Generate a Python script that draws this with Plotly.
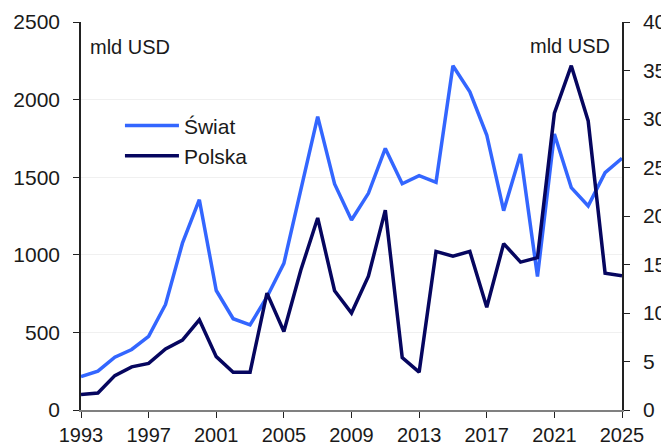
import plotly.graph_objects as go

years = list(range(1993, 2026))
swiat = [215, 250, 340, 390, 475, 680, 1075, 1355, 770, 588, 548, 728, 945, 1420, 1890,
         1456, 1224, 1396, 1685, 1458, 1510, 1467, 2218, 2050, 1772, 1284, 1650, 860,
         1778, 1433, 1315, 1529, 1622]
polska = [1.6, 1.75, 3.55, 4.45, 4.8, 6.3, 7.2, 9.3, 5.5, 3.9, 3.9, 12.05, 8.1, 14.4, 19.8,
          12.3, 10.0, 13.8, 20.6, 5.4, 3.9, 16.35, 15.85, 16.35, 10.6, 17.15, 15.25, 15.7,
          30.6, 35.5, 29.8, 14.1, 13.85]
left_ticks = [0, 500, 1000, 1500, 2000, 2500]
right_ticks = [0, 5, 10, 15, 20, 25, 30, 35, 40]
x_ticks = list(range(1993, 2026, 4))

FONT = "Liberation Sans"
TXT = "#1a1a1a"

fig = go.Figure()
fig.add_trace(go.Scatter(x=years, y=swiat, name="Świat", mode="lines",
                         line=dict(color="#3366FF", width=3.5), yaxis="y"))
fig.add_trace(go.Scatter(x=years, y=polska, name="Polska", mode="lines",
                         line=dict(color="#06065F", width=3.5), yaxis="y2"))

# the page body has an 8px default margin, margins compensate for it
fig.update_layout(
    width=669, height=446,
    margin=dict(l=73, r=55, t=14, b=44),
    paper_bgcolor="white", plot_bgcolor="white",
    font=dict(family=FONT, size=21, color=TXT),
    showlegend=True,
    legend=dict(x=0.072, y=0.785, xanchor="left", yanchor="top",
                bgcolor="rgba(0,0,0,0)", font=dict(size=21, color=TXT),
                itemwidth=54, tracegroupgap=0),
    xaxis=dict(range=[1993, 2025], tickvals=x_ticks, ticks="outside", ticklen=6,
               tickcolor="#222", showline=True, linecolor="#808080", linewidth=2,
               showgrid=False, zeroline=False, automargin=False,
               ticklabelstandoff=0, tickfont=dict(size=20, color=TXT)),
    yaxis=dict(range=[0, 2500], tickvals=left_ticks, ticks="outside", ticklen=6,
               tickcolor="#222", showline=True, linecolor="#222", linewidth=1.5,
               showgrid=True, gridcolor="#f0f0f0", gridwidth=1, zeroline=False,
               automargin=False, ticklabelstandoff=9,
               tickfont=dict(size=21, color=TXT)),
    yaxis2=dict(range=[0, 40], tickvals=right_ticks, overlaying="y", side="right",
                ticks="outside", ticklen=6, tickcolor="#222", showline=True,
                linecolor="#222", linewidth=1.5, showgrid=False, zeroline=False,
                automargin=False, ticklabelstandoff=9,
                tickfont=dict(size=21, color=TXT)),
    annotations=[
        dict(text="mld USD", xref="paper", yref="paper", x=0.013, y=0.936,
             xanchor="left", yanchor="middle", showarrow=False,
             font=dict(size=20, color=TXT)),
        dict(text="mld USD", xref="paper", yref="paper", x=0.981, y=0.938,
             xanchor="right", yanchor="middle", showarrow=False,
             font=dict(size=20, color=TXT)),
    ],
)

fig.write_html("out.html")
